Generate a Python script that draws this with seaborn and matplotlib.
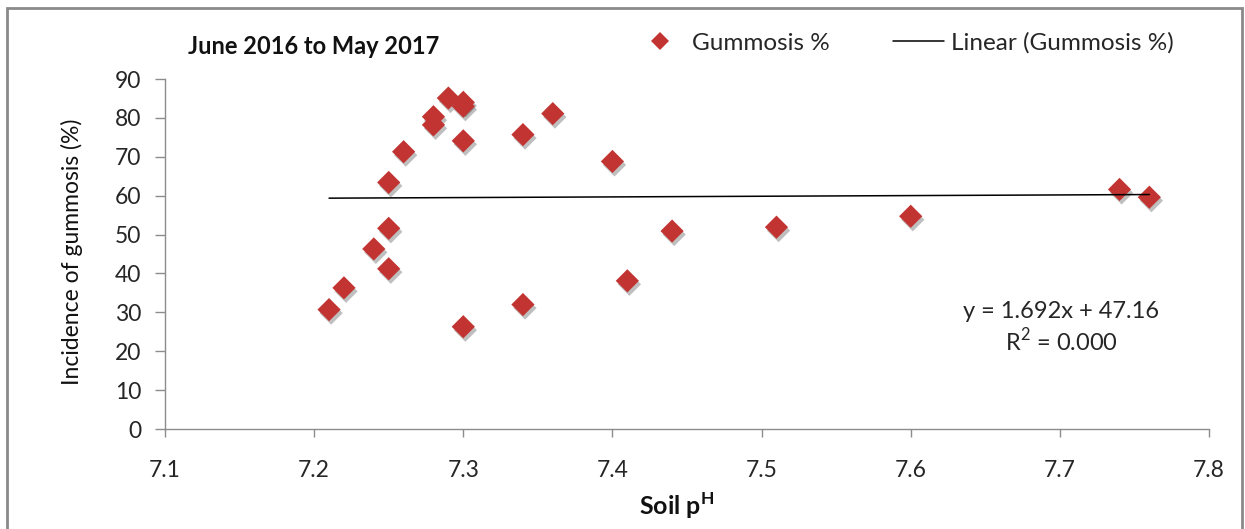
import numpy as np
import pandas as pd
import matplotlib
matplotlib.use("Agg")
import matplotlib.pyplot as plt
import matplotlib.patheffects as pe
from matplotlib.patches import Rectangle
from matplotlib.lines import Line2D
import seaborn as sns

# Soil pH and gummosis incidence per orchard, June 2016 - May 2017
soil_ph = [7.21, 7.22, 7.24, 7.25, 7.25, 7.25, 7.26, 7.28, 7.28, 7.29, 7.30, 7.30,
           7.30, 7.30, 7.34, 7.34, 7.36, 7.40, 7.41, 7.44, 7.51, 7.60, 7.74, 7.76]
gummosis_pct = [30.7, 36.3, 46.3, 41.2, 51.6, 63.4, 71.3, 78.2, 80.3, 85.1, 83.0, 84.0,
                74.1, 26.3, 75.7, 32.0, 81.1, 68.8, 38.1, 50.9, 51.9, 54.7, 61.6, 59.6]

# Linear trendline as reported on the chart
trend_slope = 1.692
trend_intercept = 47.16
trend_r2 = 0.000

x_ticks = [7.1, 7.2, 7.3, 7.4, 7.5, 7.6, 7.7, 7.8]
y_ticks = [0, 10, 20, 30, 40, 50, 60, 70, 80, 90]

sns.set_theme(style="white")
plt.rcParams["font.family"] = ["Lato", "DejaVu Sans"]

W, H = 1245, 529
fig = plt.figure(figsize=(W / 100, H / 100), dpi=100)
ax = fig.add_axes([165 / W, 1 - 429 / H, (1209 - 165) / W, (429 - 79) / H])

df = pd.DataFrame({"ph": soil_ph, "gum": gummosis_pct})
marker_color = "#C23431"
sns.scatterplot(data=df, x="ph", y="gum", ax=ax, marker="D", s=140,
                color=marker_color, edgecolor="none", zorder=3)
ax.collections[-1].set_path_effects([
    pe.SimplePatchShadow(offset=(1.5, -2.5), shadow_rgbFace="#000000", alpha=0.25),
    pe.Normal()])

trend_x = np.array([min(soil_ph), max(soil_ph)])
trend_df = pd.DataFrame({"ph": trend_x, "fit": trend_slope * trend_x + trend_intercept})
sns.lineplot(data=trend_df, x="ph", y="fit", ax=ax, color="black", linewidth=1.1,
             zorder=4)

ax.set_xlim(7.1, 7.8)
ax.set_ylim(0, 90)
ax.set_xticks(x_ticks)
ax.set_yticks(y_ticks)
ax.set_xticklabels([f"{v:.1f}" for v in x_ticks])
ax.set_yticklabels([str(v) for v in y_ticks])

axis_gray = "#8c8c8c"
text_dark = "#262626"
for side in ["top", "right"]:
    ax.spines[side].set_visible(False)
for side in ["left", "bottom"]:
    ax.spines[side].set_color(axis_gray)
    ax.spines[side].set_linewidth(1.0)
ax.tick_params(axis="both", which="major", direction="out", width=1.0,
               color=axis_gray, labelsize=16.5, labelcolor=text_dark)
ax.tick_params(axis="x", length=6, pad=16, bottom=True)
ax.tick_params(axis="y", length=7, pad=10, left=True)

ax.set_xlabel("Soil p$^{\\mathregular{H}}$", fontsize=18, fontweight="bold",
              color="#111111", labelpad=7)
ax.xaxis.label.set_x(0.49)
ax.set_ylabel("Incidence of gummosis (%)", fontsize=16.5, color="#111111")
ax.yaxis.set_label_coords((83 - 165) / 1044, 0.505)

fig.text(188 / W, 1 - 47 / H, "June 2016 to May 2017", fontsize=17, fontweight="bold",
         color="#111111", va="center", ha="left")

eq_x = 1061
fig.text(eq_x / W, 1 - 312 / H, f"y = {trend_slope:.3f}x + {trend_intercept:.2f}",
         fontsize=17, color=text_dark, ha="center", va="center")
fig.text(eq_x / W, 1 - 341 / H, f"R$^{{\\mathregular{{2}}}}$ = {trend_r2:.3f}",
         fontsize=17, color=text_dark, ha="center", va="center")

handles = [
    Line2D([], [], marker="D", linestyle="none", color=marker_color, markersize=9.5,
           markeredgewidth=0),
    Line2D([], [], color="black", linewidth=1.1),
]
fig.legend(handles, ["Gummosis %", "Linear (Gummosis %)"], loc="center",
           bbox_to_anchor=(904 / W, 1 - 43 / H), ncol=2, frameon=False,
           fontsize=17.5, handlelength=2.1, handletextpad=0.29, columnspacing=2.6,
           labelcolor=text_dark)

# outer chart frame
fig.add_artist(Rectangle((7 / W, -0.05), (1242 - 7) / W, 1.05 - 8 / H,
                         transform=fig.transFigure, fill=False,
                         edgecolor="#8a8a8a", linewidth=2.0))

fig.savefig("out.png", dpi=100, facecolor="white")
